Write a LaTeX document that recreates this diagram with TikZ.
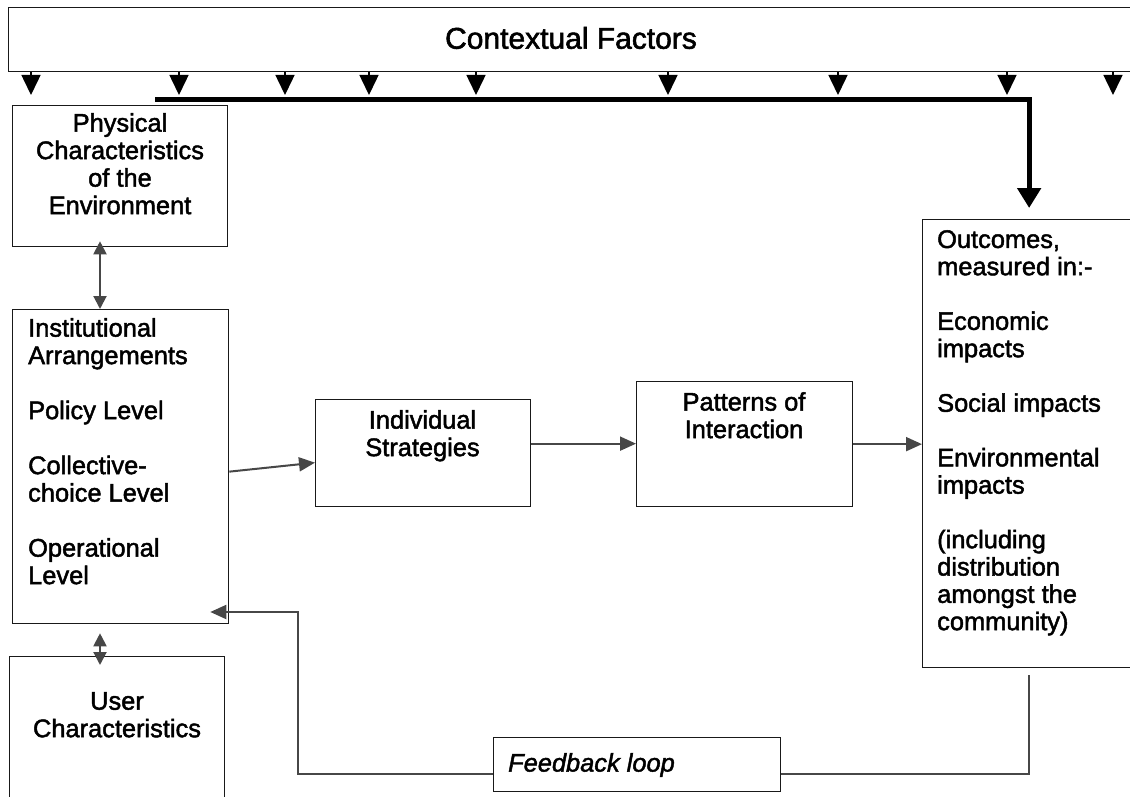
\documentclass[tikz,border=0pt]{standalone}
\usepackage{fontspec}
\setmainfont{Liberation Sans}[FakeBold=1.8]
\usetikzlibrary{arrows.meta}
\begin{document}
\begin{tikzpicture}[x=1pt,y=-1pt,
  box/.style={draw=black!90, line width=1.3pt, fill=white, inner sep=0pt, anchor=north west},
  txt/.style={inner sep=0pt, font=\fontsize{25.4}{27.5}\selectfont},
  conn/.style={draw=black!72, line width=2pt},
  arr/.style={-{Triangle[width=14pt,length=16pt]}},
  dbl/.style={{Triangle[width=13pt,length=13pt]}-{Triangle[width=13pt,length=13pt]}},
  ctxarrow/.style={draw=black, line width=1.5pt, -{Triangle[width=19pt,length=20pt]}}]
\useasboundingbox (0,0) rectangle (1130,797);
\fill[white] (0,0) rectangle (1130,797);

% boxes
\node[box, minimum width=1130pt, minimum height=64pt] (ctx) at (8,7) {};
\node[txt, font=\fontsize{30}{32}\selectfont] (ctxT) at (571,38) {Contextual Factors};

\node[box, minimum width=215pt, minimum height=141pt] (phys) at (12,105) {};
\node[txt, align=center, anchor=north] (physT) at (120,113) {Physical\\Characteristics\\of the\\Environment};

\node[box, minimum width=216pt, minimum height=314pt] (inst) at (12,309) {};
\node[txt, align=left, anchor=north west] (instT) at (28,318) {Institutional\\Arrangements\\[27.5pt]Policy Level\\[27.5pt]Collective-\\choice Level\\[27.5pt]Operational\\Level};

\node[box, minimum width=215pt, minimum height=107pt] (ind) at (315,399) {};
\node[txt, align=center, anchor=north] (indT) at (422.5,410) {Individual\\Strategies};

\node[box, minimum width=216pt, minimum height=125pt] (pat) at (636,381) {};
\node[txt, align=center, anchor=north] (patT) at (744,392) {Patterns of\\Interaction};

\node[box, minimum width=213pt, minimum height=448pt] (out) at (922,219) {};
\node[txt, align=left, anchor=north west, font=\fontsize{25.4}{27.3}\selectfont] (outT) at (937,230) {Outcomes,\\measured in:-\\[27.3pt]Economic\\impacts\\[27.3pt]Social impacts\\[27.3pt]Environmental\\impacts\\[27.3pt](including\\distribution\\amongst the\\community)};

\node[box, minimum width=215pt, minimum height=200pt] (user) at (9,656) {};
\node[txt, align=center, anchor=north] (userT) at (117,692) {User\\Characteristics};

\node[box, minimum width=287pt, minimum height=54pt] (fbk) at (493,737) {};
\node[txt, anchor=west, font=\fontsize{25.4}{27.5}\selectfont\itshape] (fbkT) at (508,765) {Feedback loop};

% arrows from the contextual factors bar
\foreach \i/\x in {1/31,2/179,3/285,4/369,5/476,6/668,7/838,8/1007,9/1113} {
  \coordinate (c\i) at (\x,95);
  \draw[ctxarrow] (c\i |- ctx.south) -- (c\i);
}

% thick arrow to outcomes
\coordinate (ts) at (155,99.5);
\draw[line width=5pt, black, -{Triangle[width=23pt,length=20pt]}] (ts) -| ([yshift=11pt]out.north);

% double arrows on the left
\coordinate (xa) at (100,0);
\draw[conn, dbl] ([yshift=6pt]phys.south -| xa) -- (inst.north -| xa);
\draw[conn, dbl] ([yshift=-9pt]inst.south -| xa) -- ([yshift=-9pt]user.north -| xa);

% main chain
\draw[conn, arr] ([yshift=-5pt]inst.east) -- ([yshift=-9.5pt]ind.west);
\draw[conn, arr] ([yshift=9.5pt]ind.east) -- ([yshift=9.5pt]ind.east -| pat.west);
\draw[conn, arr] (pat.east) -- (pat.east -| out.west);

% feedback loop
\coordinate (fb) at (298,612);
\draw[conn] ([yshift=-7pt]out.south) |- ([yshift=-9pt]fbk.east);
\draw[conn, arr] ([yshift=-9pt]fbk.west) -| (fb) -- ([xshift=-19pt]fb -| inst.east);
\end{tikzpicture}
\end{document}
